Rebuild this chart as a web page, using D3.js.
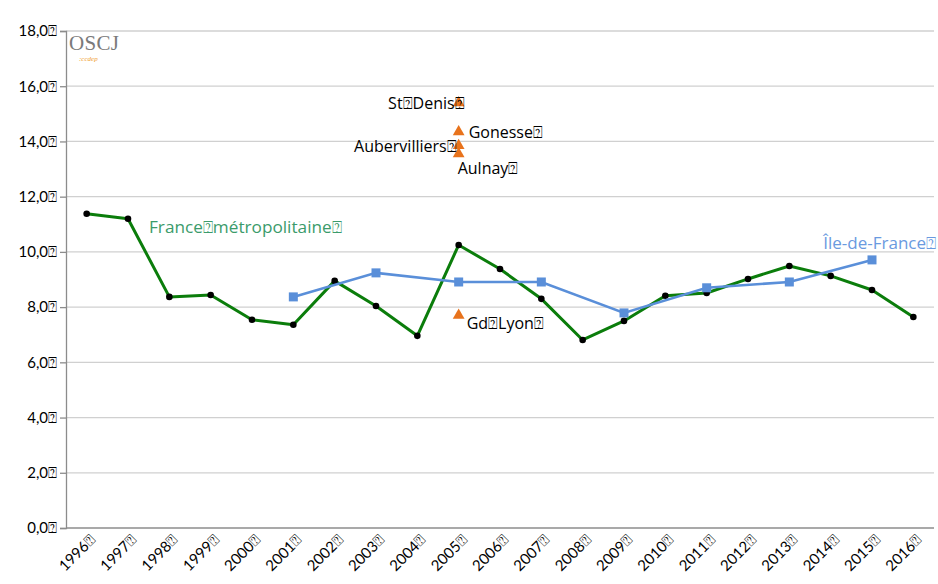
<!DOCTYPE html>
<html>
<head>
<meta charset="utf-8">
<script src="https://cdn.jsdelivr.net/npm/d3@7"></script>
<style>
  html, body { margin: 0; padding: 0; background: #fff; }
  svg { display: block; font-family: "Open Sans", Lato, sans-serif; }
</style>
</head>
<body>
<svg id="chart" width="938" height="584"></svg>
<script>
// Annual rates, France métropolitaine (every year) and Île-de-France (odd years)
const years = ["1996","1997","1998","1999","2000","2001","2002","2003","2004","2005","2006",
               "2007","2008","2009","2010","2011","2012","2013","2014","2015","2016"];
const franceValues = [11.38, 11.2, 8.37, 8.44, 7.54, 7.36, 8.95, 8.04, 6.96, 10.25, 9.38,
                      8.3, 6.81, 7.5, 8.41, 8.51, 9.02, 9.49, 9.13, 8.62, 7.64];
const idfYears  = ["2001","2003","2005","2007","2009","2011","2013","2015"];
const idfValues = [8.37, 9.24, 8.91, 8.91, 7.79, 8.7, 8.91, 9.71];
// Single-year local values (2005)
const localNames  = ["St\u2370Denis\u2370", "Gonesse\u2370", "Aubervilliers\u2370", "Aulnay\u2370", "Gd\u2370Lyon\u2370"];
const localYear   = "2005";
const localValues = [15.4, 14.35, 13.85, 13.55, 7.7];
const yTicks = [0, 2, 4, 6, 8, 10, 12, 14, 16, 18];

const Q = "\u2370";
const svg = d3.select("#chart");
const plotLeft = 66, plotRight = 934, plotTop = 31, plotBottom = 528;

const x = d3.scalePoint().domain(years).range([plotLeft, plotRight]).padding(0.5);
const y = d3.scaleLinear().domain([0, 18]).range([plotBottom, plotTop]);

// grid
svg.append("g").selectAll("line").data(yTicks.filter(d => d > 0)).join("line")
  .attr("x1", plotLeft).attr("x2", plotRight)
  .attr("y1", d => y(d)).attr("y2", d => y(d))
  .attr("stroke", "#d0d0d0").attr("stroke-width", 1.3);

// y axis
const yAxis = d3.axisLeft(y).tickValues(yTicks).tickSize(6).tickPadding(3)
  .tickFormat(d => d3.format(".1f")(d).replace(".", ",") + Q);
const gy = svg.append("g").attr("transform", `translate(${plotLeft},0)`).call(yAxis);
gy.select(".domain").attr("stroke", "#8c8c8c").attr("stroke-width", 1.3);
gy.selectAll(".tick line").attr("stroke", "#8c8c8c").attr("stroke-width", 1.3);
gy.selectAll(".tick text").attr("fill", "#000").style("font-size", "15px")
  .style("font-family", "Lato, sans-serif");

// x axis
const xAxis = d3.axisBottom(x).tickSize(0).tickFormat(d => d + Q);
const gx = svg.append("g").attr("transform", `translate(0,${plotBottom})`).call(xAxis);
gx.select(".domain").attr("stroke", "#8c8c8c").attr("stroke-width", 1.3).attr("d", `M${plotLeft},0H${plotRight}`);
gx.selectAll(".tick text")
  .attr("fill", "#000").style("font-size", "15px").style("font-family", "Lato, sans-serif")
  .attr("text-anchor", "end").attr("dy", null).attr("y", 0)
  .attr("transform", "translate(9,13) rotate(-45)");

// France métropolitaine
const fr = years.map((yr, i) => ({ yr, v: franceValues[i] }));
svg.append("path").datum(fr)
  .attr("fill", "none").attr("stroke", "#0b7d0b").attr("stroke-width", 3)
  .attr("stroke-linejoin", "round")
  .attr("d", d3.line().x(d => x(d.yr)).y(d => y(d.v)));
svg.append("g").selectAll("circle").data(fr).join("circle")
  .attr("cx", d => x(d.yr)).attr("cy", d => y(d.v)).attr("r", 3.3).attr("fill", "#000");

// Île-de-France
const idf = idfYears.map((yr, i) => ({ yr, v: idfValues[i] }));
svg.append("path").datum(idf)
  .attr("fill", "none").attr("stroke", "#5a8fd9").attr("stroke-width", 2.6)
  .attr("d", d3.line().x(d => x(d.yr)).y(d => y(d.v)));
svg.append("g").selectAll("rect").data(idf).join("rect")
  .attr("x", d => x(d.yr) - 4.5).attr("y", d => y(d.v) - 4.5)
  .attr("width", 9).attr("height", 9).attr("fill", "#5a8fd9");

// local triangles
const loc = localNames.map((n, i) => ({ n, v: localValues[i] }));
svg.append("g").selectAll("path").data(loc).join("path")
  .attr("transform", d => `translate(${x(localYear)},${y(d.v)})`)
  .attr("d", d3.symbol().type(d3.symbolTriangle).size(60))
  .attr("fill", "#e8731c");

// local labels
const lx = x(localYear);
const localLabelPos = [
  { dx: 6, dy: 6, anchor: "end" },
  { dx: 10, dy: 6, anchor: "start" },
  { dx: -2, dy: 6, anchor: "end" },
  { dx: -1, dy: 20, anchor: "start" },
  { dx: 8, dy: 14, anchor: "start" }
];
svg.append("g").selectAll("text").data(loc).join("text")
  .attr("x", (d, i) => lx + localLabelPos[i].dx)
  .attr("y", (d, i) => y(d.v) + localLabelPos[i].dy)
  .attr("text-anchor", (d, i) => localLabelPos[i].anchor)
  .style("font-size", "16px").attr("fill", "#000")
  .text(d => d.n);

// series labels
svg.append("text").attr("x", 149).attr("y", 233)
  .style("font-size", "17.2px").attr("fill", "#3b9b6b")
  .text("France" + Q + "métropolitaine" + Q);
svg.append("text").attr("x", 936).attr("y", 249).attr("text-anchor", "end")
  .style("font-size", "17px").attr("fill", "#6a9ae0")
  .text("Île-de-France" + Q);

// logo
svg.append("text").attr("x", 69).attr("y", 50)
  .style("font-family", "'Liberation Serif', serif").style("font-size", "21px")
  .attr("fill", "#7a7a7a").attr("letter-spacing", "0.3").text("OSCJ");
svg.append("text").attr("x", 79).attr("y", 61)
  .style("font-family", "'Liberation Serif', serif").style("font-size", "7px")
  .style("font-style", "italic").attr("fill", "#f0a030").text(":ccdep");
</script>
</body>
</html>
